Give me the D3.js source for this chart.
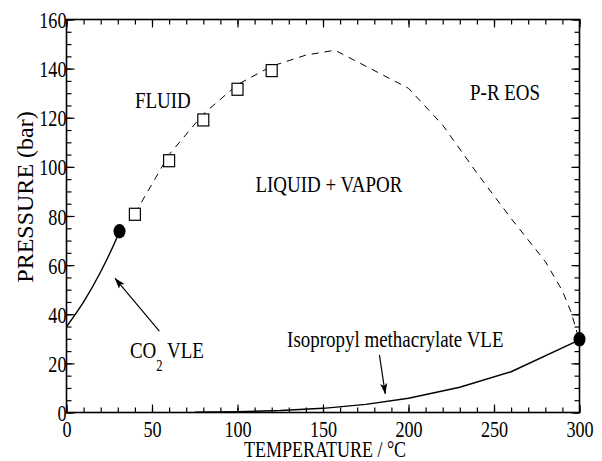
<!DOCTYPE html>
<html>
<head>
<meta charset="utf-8">
<script src="https://cdn.jsdelivr.net/npm/d3@7"></script>
<style>
  html, body { margin: 0; padding: 0; background: #fff; }
  svg { display: block; }
</style>
</head>
<body>
<svg id="chart" width="602" height="461"></svg>
<script>
'use strict';

// axis ticks
var xTicks = [0, 50, 100, 150, 200, 250, 300];
var yTicks = [0, 20, 40, 60, 80, 100, 120, 140, 160];

// P-R EOS envelope (dashed), [T degC, P bar]
var eosCurve = [
	[40, 81], [60, 105], [80, 121.5], [100, 133.5], [120, 141],
	[140, 145.5], [157, 147.5], [200, 132], [220, 117], [240, 97.5],
	[260, 79], [280, 61.5], [290, 49.5], [295, 41], [298, 34], [299, 31.5]
];

// experimental points (open squares)
var expT = [40, 60, 80, 100, 120];
var expP = [80.7, 102.5, 119.1, 131.6, 139.2];

// CO2 vapour pressure curve
var co2T = [0, 10, 20, 25, 30, 31];
var co2P = [34.9, 45, 57.3, 64.3, 72.1, 73.8];

// isopropyl methacrylate vapour pressure curve
var ipmaT = [75, 100, 125, 150, 175, 200, 230, 260, 300];
var ipmaP = [0.1, 0.3, 0.8, 1.7, 3.3, 5.8, 10.3, 16.6, 29.6];

// critical points (filled)
var critT = [31, 300];
var critP = [73.8, 29.8];

// region / curve labels, positioned in data units
var labels = [
	{ t: 40, p: 124, text: 'FLUID' },
	{ t: 110.5, p: 89.8, text: 'LIQUID + VAPOR' },
	{ t: 236, p: 127.2, text: 'P-R EOS' },
	{ t: 129, p: 26.7, text: 'Isopropyl methacrylate VLE' }
];

// arrows [from, to] in data units
var arrows = [
	[[54.3, 33.1], [28.4, 54.6]],
	[[183, 23.4], [186.4, 7.6]]
];

var FONT = '"Times New Roman", Times, "Liberation Serif", "DejaVu Serif", serif';
var margin = { top: 19.5, right: 22.5, bottom: 48.5, left: 66.5 };
var svg = d3.select('#chart')
	.attr('font-family', FONT);
var width = +svg.attr('width') - margin.left - margin.right;
var height = +svg.attr('height') - margin.top - margin.bottom;
var SX = 0.79; // horizontal squeeze of the serif labels

var x = d3.scaleLinear().domain([0, 300]).range([0, width]);
var y = d3.scaleLinear().domain([0, 160]).range([height, 0]);

var g = svg.append('g')
	.attr('transform', 'translate(' + margin.left + ',' + margin.top + ')');

svg.append('defs').append('marker')
	.attr('id', 'head')
	.attr('viewBox', '0 -4 11 8')
	.attr('refX', 10.5)
	.attr('refY', 0)
	.attr('markerUnits', 'userSpaceOnUse')
	.attr('markerWidth', 11)
	.attr('markerHeight', 8)
	.attr('orient', 'auto')
	.append('path')
	.attr('d', 'M0,-3.6L11,0L0,3.6L2.5,0Z')
	.attr('fill', '#000');

function drawAxis(axis, transform, values, size, labelled) {
	var a = g.append('g')
		.attr('transform', transform)
		.call(axis.tickValues(values).tickSize(size)
			.tickFormat(labelled ? d3.format('d') : ''));
	a.attr('font-family', FONT);
	a.select('.domain').remove();
	a.selectAll('line').attr('stroke', '#000').attr('stroke-width', 1.2);
	return a;
}

var xMinor = d3.range(0, 301, 10);
var yMinor = d3.range(0, 161, 5);

drawAxis(d3.axisBottom(x), 'translate(0,' + height + ')', xMinor, -5, false);
drawAxis(d3.axisTop(x), null, xMinor, -5, false);
drawAxis(d3.axisTop(x), null, xTicks, -8, false);
drawAxis(d3.axisLeft(y), null, yMinor, -5, false);
drawAxis(d3.axisRight(y), 'translate(' + width + ',0)', yMinor, -5, false);
drawAxis(d3.axisRight(y), 'translate(' + width + ',0)', yTicks, -8, false);

var xAx = drawAxis(d3.axisBottom(x), 'translate(0,' + height + ')', xTicks, -8, true);
xAx.selectAll('text')
	.attr('y', null).attr('dy', null)
	.attr('font-size', 23)
	.attr('fill', '#000')
	.attr('transform', 'translate(0,24) scale(' + SX + ',1)');

var yAx = drawAxis(d3.axisLeft(y), null, yTicks, -8, true);
yAx.selectAll('text')
	.attr('x', null).attr('dy', null)
	.attr('font-size', 23)
	.attr('fill', '#000')
	.attr('transform', 'translate(0,8) scale(' + SX + ',1)');

g.append('rect')
	.attr('width', width)
	.attr('height', height)
	.attr('fill', 'none')
	.attr('stroke', '#000')
	.attr('stroke-width', 1.6);

// curves
var line = d3.line()
	.x(function(d) { return x(d[0]); })
	.y(function(d) { return y(d[1]); });

g.append('path')
	.datum(eosCurve)
	.attr('d', line)
	.attr('fill', 'none')
	.attr('stroke', '#000')
	.attr('stroke-width', 1)
	.attr('stroke-dasharray', '7,6');

g.append('path')
	.datum(d3.zip(co2T, co2P))
	.attr('d', line.curve(d3.curveMonotoneX))
	.attr('fill', 'none')
	.attr('stroke', '#000')
	.attr('stroke-width', 1.4);

g.append('path')
	.datum(d3.zip(ipmaT, ipmaP))
	.attr('d', line.curve(d3.curveLinear))
	.attr('fill', 'none')
	.attr('stroke', '#000')
	.attr('stroke-width', 1.4);

// markers
g.selectAll('rect.exp')
	.data(d3.zip(expT, expP))
	.enter().append('rect')
	.attr('class', 'exp')
	.attr('x', function(d) { return x(d[0]) - 5.5; })
	.attr('y', function(d) { return y(d[1]) - 6; })
	.attr('width', 11)
	.attr('height', 12)
	.attr('fill', '#fff')
	.attr('stroke', '#000')
	.attr('stroke-width', 1.2);

g.selectAll('ellipse.crit')
	.data(d3.zip(critT, critP))
	.enter().append('ellipse')
	.attr('class', 'crit')
	.attr('cx', function(d) { return x(d[0]); })
	.attr('cy', function(d) { return y(d[1]); })
	.attr('rx', 6)
	.attr('ry', 7.2)
	.attr('fill', '#000');

// annotations
g.selectAll('line.arrow')
	.data(arrows)
	.enter().append('line')
	.attr('class', 'arrow')
	.attr('x1', function(d) { return x(d[0][0]); })
	.attr('y1', function(d) { return y(d[0][1]); })
	.attr('x2', function(d) { return x(d[1][0]); })
	.attr('y2', function(d) { return y(d[1][1]); })
	.attr('stroke', '#000')
	.attr('stroke-width', 1.2)
	.attr('marker-end', 'url(#head)');

g.selectAll('text.lbl')
	.data(labels)
	.enter().append('text')
	.attr('class', 'lbl')
	.attr('font-size', 24)
	.attr('transform', function(d) {
		return 'translate(' + x(d.t) + ',' + y(d.p) + ') scale(' + SX + ',1)';
	})
	.text(function(d) { return d.text; });

var co2 = g.append('text')
	.attr('font-size', 24)
	.attr('transform', 'translate(' + x(37.1) + ',' + y(22.2) + ') scale(' + SX + ',1)');
co2.append('tspan').text('CO');
co2.append('tspan').attr('font-size', 16).attr('dy', 13).text('2');
co2.append('tspan').attr('dy', -13).text(' VLE');

// axis titles
svg.append('text')
	.attr('font-size', 24)
	.attr('text-anchor', 'middle')
	.attr('transform', 'translate(33,197) rotate(-90)')
	.text('PRESSURE (bar)');

svg.append('text')
	.attr('font-size', 24)
	.attr('text-anchor', 'middle')
	.attr('transform', 'translate(325,456.5) scale(0.75,1)')
	.text('TEMPERATURE / °C');
</script>
</body>
</html>
